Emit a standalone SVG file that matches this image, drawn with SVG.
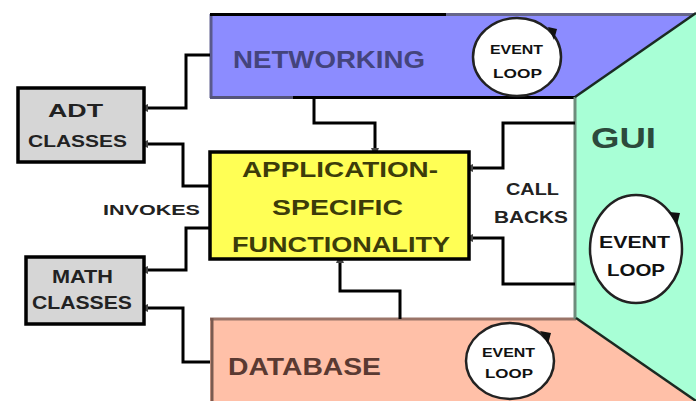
<svg xmlns="http://www.w3.org/2000/svg" width="696" height="401" viewBox="0 0 696 401">
  <style>
    .lbl { font-family: "Liberation Sans", Arial, sans-serif; font-weight: bold; }
    .wire { fill: none; stroke: #000; stroke-width: 3; marker-start: url(#tip); }
    .loop { fill: #fff; stroke: #222; stroke-width: 2.5; }
    .box { stroke: #000; stroke-width: 3.5; }
  </style>
  <defs>
    <marker id="tip" markerUnits="userSpaceOnUse" markerWidth="10" markerHeight="10" refX="2" refY="5" orient="auto-start-reverse">
      <path d="M0,1 L9,5 L0,9 z" fill="#444"/>
    </marker>
  </defs>

  <rect width="696" height="401" fill="#fff"/>

  <!-- networking layer -->
  <g id="networking">
    <polygon points="210,14 696,14 575,97 210,97" fill="#8c8cff"/>
    <line x1="211" y1="14" x2="211" y2="98" stroke="#5a5a8c" stroke-width="3"/>
    <line x1="210" y1="14.5" x2="446" y2="14.5" stroke="#000" stroke-width="3"/>
    <line x1="446" y1="14.5" x2="696" y2="14.5" stroke="#66668a" stroke-width="3"/>
    <line x1="210" y1="97.5" x2="293" y2="97.5" stroke="#55557a" stroke-width="3"/>
    <line x1="293" y1="97.5" x2="576" y2="97.5" stroke="#000" stroke-width="3"/>
    <text class="lbl" x="233" y="68" font-size="24" fill="#44447c" textLength="192" lengthAdjust="spacingAndGlyphs">NETWORKING</text>
    <g id="net-loop">
      <ellipse class="loop" cx="517" cy="57" rx="44" ry="39"/>
      <polygon points="548,27 557,29 554,40" fill="#111"/>
      <text class="lbl" x="490" y="54" font-size="13" fill="#111" textLength="53" lengthAdjust="spacingAndGlyphs">EVENT</text>
      <text class="lbl" x="493" y="78" font-size="13" fill="#111" textLength="49" lengthAdjust="spacingAndGlyphs">LOOP</text>
    </g>
  </g>

  <!-- database layer -->
  <g id="database">
    <polygon points="210,319 576,319 696,401 210,401" fill="#ffc0a8"/>
    <line x1="210" y1="319" x2="576" y2="319" stroke="#9a7468" stroke-width="3"/>
    <line x1="212" y1="318" x2="212" y2="401" stroke="#7a5a50" stroke-width="3"/>
    <text class="lbl" x="228" y="375" font-size="24" fill="#5a3a32" textLength="153" lengthAdjust="spacingAndGlyphs">DATABASE</text>
    <g id="db-loop">
      <ellipse class="loop" cx="510" cy="361" rx="44" ry="38"/>
      <polygon points="540,331 551,333 548,344" fill="#111"/>
      <text class="lbl" x="482" y="357" font-size="13" fill="#111" textLength="53" lengthAdjust="spacingAndGlyphs">EVENT</text>
      <text class="lbl" x="485" y="378" font-size="13" fill="#111" textLength="48" lengthAdjust="spacingAndGlyphs">LOOP</text>
    </g>
  </g>

  <!-- GUI layer -->
  <g id="gui">
    <polygon points="575,97 696,13 696,401 575,318" fill="#a8ffd6"/>
    <line x1="575" y1="97" x2="575" y2="319" stroke="#6e8c7c" stroke-width="3"/>
    <line x1="575" y1="97" x2="696" y2="13" stroke="#1a2a22" stroke-width="2.5"/>
    <line x1="576" y1="318" x2="696" y2="401" stroke="#1a2a22" stroke-width="2.5"/>
    <text class="lbl" x="591" y="148" font-size="30" fill="#2c4a3c" textLength="65" lengthAdjust="spacingAndGlyphs">GUI</text>
    <g id="gui-loop">
      <ellipse class="loop" cx="636" cy="249" rx="46" ry="54"/>
      <polygon points="669,212 680,213 677,225" fill="#111"/>
      <text class="lbl" x="599" y="248" font-size="17" fill="#111" textLength="71" lengthAdjust="spacingAndGlyphs">EVENT</text>
      <text class="lbl" x="607" y="276" font-size="17" fill="#111" textLength="58" lengthAdjust="spacingAndGlyphs">LOOP</text>
    </g>
  </g>

  <!-- connectors -->
  <g id="connectors">
    <path class="wire" d="M146,108 H186 V55 H210"/>
    <path class="wire" d="M146,144 H183 V186 H209"/>
    <path class="wire" d="M146,270 H186 V228 H209"/>
    <path class="wire" d="M146,308 H183 V362 H210"/>
    <path class="wire" d="M375,150 V123 H314 V97"/>
    <path class="wire" d="M471,168 H503 V123 H575"/>
    <path class="wire" d="M471,238 H503 V284 H575"/>
    <path class="wire" d="M340,261 V291 H400 V319"/>
  </g>

  <g id="adt-classes">
    <rect class="box" x="18" y="88" width="126" height="74" fill="#d6d6d6"/>
    <text class="lbl" x="48" y="117" font-size="19" fill="#222" textLength="55" lengthAdjust="spacingAndGlyphs">ADT</text>
    <text class="lbl" x="28" y="147" font-size="16" fill="#222" textLength="99" lengthAdjust="spacingAndGlyphs">CLASSES</text>
  </g>

  <g id="math-classes">
    <rect class="box" x="26" y="257" width="118" height="67" fill="#d6d6d6"/>
    <text class="lbl" x="52" y="283" font-size="18" fill="#222" textLength="61" lengthAdjust="spacingAndGlyphs">MATH</text>
    <text class="lbl" x="32" y="309" font-size="18" fill="#222" textLength="100" lengthAdjust="spacingAndGlyphs">CLASSES</text>
  </g>

  <g id="app-functionality">
    <rect class="box" x="210" y="152" width="259" height="107" fill="#ffff55"/>
    <text class="lbl" x="242" y="177" font-size="22" fill="#3c3c0a" textLength="196" lengthAdjust="spacingAndGlyphs">APPLICATION-</text>
    <text class="lbl" x="272" y="215" font-size="22" fill="#3c3c0a" textLength="131" lengthAdjust="spacingAndGlyphs">SPECIFIC</text>
    <text class="lbl" x="232" y="252" font-size="22" fill="#3c3c0a" textLength="218" lengthAdjust="spacingAndGlyphs">FUNCTIONALITY</text>
  </g>

  <!-- free labels -->
  <text class="lbl" x="103" y="215" font-size="15" fill="#222" textLength="97" lengthAdjust="spacingAndGlyphs">INVOKES</text>
  <text class="lbl" x="506" y="195" font-size="17" fill="#222" textLength="53" lengthAdjust="spacingAndGlyphs">CALL</text>
  <text class="lbl" x="494" y="223" font-size="17" fill="#222" textLength="74" lengthAdjust="spacingAndGlyphs">BACKS</text>
</svg>
